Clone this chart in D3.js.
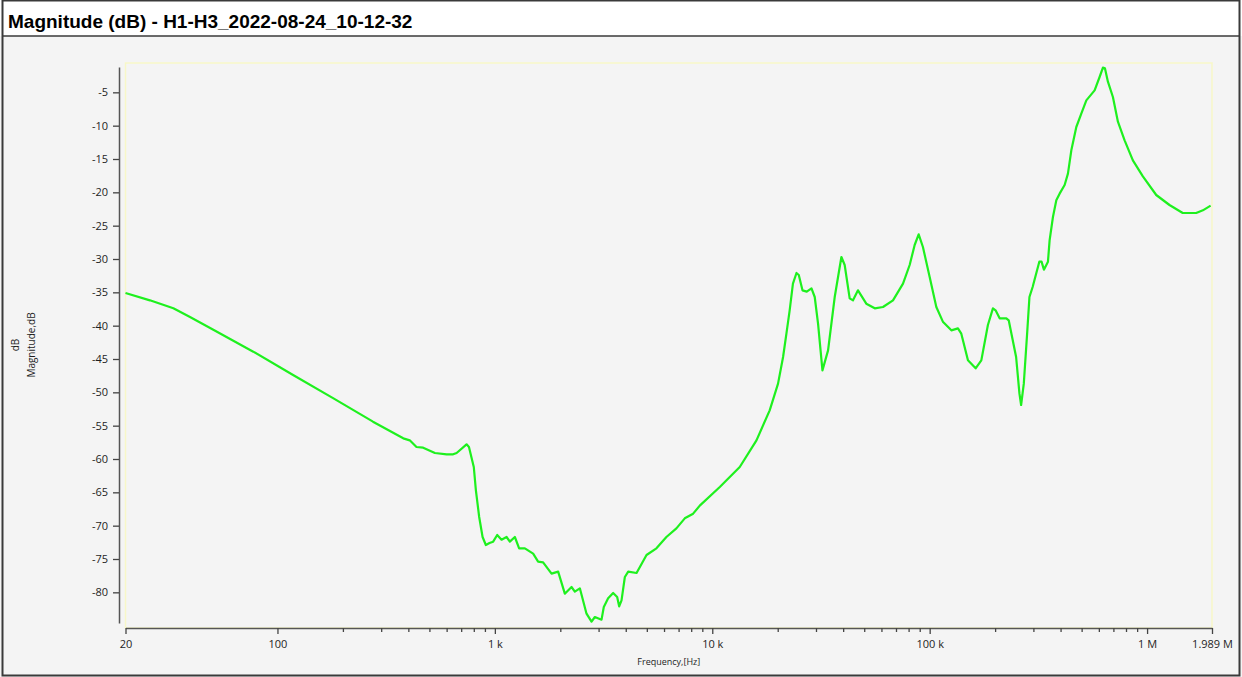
<!DOCTYPE html>
<html>
<head>
<meta charset="utf-8">
<script src="https://cdn.jsdelivr.net/npm/d3@7"></script>
<style>
  html, body { margin: 0; padding: 0; background: #ffffff; }
  svg { display: block; }
  .tick text { font-family: "Open Sans", "Noto Sans", sans-serif; font-size: 11px; fill: #1e1e1e; }
</style>
</head>
<body>
<svg id="chart" width="1242" height="677"></svg>
<script>
// Frequency response, H1-H3 measurement: frequency (Hz) and magnitude (dB)
const frequencyHz = [
  20, 25.9, 33.2, 39.6, 50.7, 77.4, 118, 181, 275, 379, 406, 436, 468, 530, 600, 643, 667,
  741, 760, 800, 818, 847, 878, 909, 945, 982, 1025, 1073, 1132, 1172, 1236,
  1293, 1374, 1500, 1581, 1667, 1823, 1955, 2098, 2252, 2333, 2460, 2640, 2784,
  2884, 3095, 3170, 3319, 3500, 3652, 3730, 3825, 3962, 4106, 4485, 4984, 5536,
  6152, 6839, 7474, 8166, 8760, 10830, 13380, 15970, 18370, 20070, 21170, 21930,
  22700, 23500, 24400, 25000, 26000, 27200, 28600, 29600, 30660, 32120, 34090,
  36580, 39260, 40650, 42860, 44400, 46800, 51100, 55900, 61000, 67800, 75400,
  80900, 85300, 89000, 93100, 100000, 107300, 115000, 125800, 134900, 139800,
  150000, 162700, 172800, 185300, 195400, 201000, 209800, 225200, 231000, 249800,
  258800, 263400, 271000, 280700, 287700, 297600, 319400, 327000, 335400, 350000,
  356200, 369000, 382400, 396000, 417600, 432500, 448300, 472600, 498300, 525500,
  573700, 604800, 626500, 640000, 660500, 696400, 734300, 788300, 860400, 956500,
  1102000, 1268000, 1459000, 1682000, 1806000, 1960000
];
const magnitudeDb = [
  -35.1, -36.2, -37.4, -38.7, -40.6, -43.9, -47.4, -50.9, -54.4, -56.9, -57.2, -58.2, -58.3, -59.1, -59.3, -59.3, -59.1,
  -57.8, -58.2, -61.2, -64.7, -68.7, -71.7, -72.9, -72.6, -72.4, -71.4, -72.1, -71.7, -72.4, -71.7,
  -73.4, -73.4, -74.2, -75.4, -75.5, -77.2, -76.9, -80.2, -79.2, -79.9, -79.4, -83.2, -84.4,
  -83.7, -84.1, -82.2, -80.9, -80.1, -80.7, -82.1, -81.2, -77.7, -76.9, -77.1, -74.4, -73.4,
  -71.7, -70.4, -68.9, -68.2, -67.0, -64.2, -61.2, -57.2, -52.7, -48.7, -44.7, -41.2,
  -37.7, -33.7, -32.1, -32.4, -34.7, -34.9, -34.4, -35.7, -39.7, -46.7, -43.7,
  -35.7, -29.7, -30.9, -35.9, -36.2, -34.7, -36.7, -37.4, -37.2, -36.2, -33.7,
  -30.9, -27.9, -26.3, -28.2, -32.7, -37.2, -39.4, -40.7, -40.4, -41.2,
  -45.2, -46.4, -45.2, -39.9, -37.4, -37.7, -38.9, -38.9, -39.2, -44.7,
  -50.2, -51.9, -48.7, -41.2, -35.7, -34.2, -30.4, -30.4, -31.6, -30.4,
  -27.2, -23.7, -21.2, -20.2, -18.9, -17.2, -13.7, -10.2, -8.2, -6.2,
  -4.7, -2.7, -1.3, -1.4, -3.4, -5.7, -9.4, -12.2, -15.2, -17.6,
  -20.4, -21.9, -23.1, -23.1, -22.7, -22.0
];

// Axis ticks
const yTickValues = [-5, -10, -15, -20, -25, -30, -35, -40, -45, -50, -55, -60, -65, -70, -75, -80];
const xMajorTicks = [20, 100, 1000, 10000, 100000, 1000000, 1989000];
const xMajorLabels = ["20", "100", "1 k", "10 k", "100 k", "1 M", "1.989 M"];
const xMinorTicks = [
  200, 300, 400, 500, 600, 700, 800, 900,
  2000, 3000, 4000, 5000, 6000, 7000, 8000, 9000,
  20000, 30000, 40000, 50000, 60000, 70000, 80000, 90000,
  200000, 300000, 400000, 500000, 600000, 700000, 800000, 900000
];

const titleText = "Magnitude (dB) - H1-H3_2022-08-24_10-12-32";

const svg = d3.select("#chart");
const W = 1242, H = 677;

// Panel background and title bar
svg.append("rect").attr("x", 0).attr("y", 0).attr("width", W).attr("height", H).attr("fill", "#f4f4f4");
svg.append("rect").attr("x", 0).attr("y", 0).attr("width", W).attr("height", 36).attr("fill", "#ffffff");
svg.append("line").attr("x1", 2).attr("x2", 1240).attr("y1", 36).attr("y2", 36)
  .attr("stroke", "#3a3a3a").attr("stroke-width", 1.5);
svg.append("rect").attr("x", 2.5).attr("y", 0.5).attr("width", 1237).attr("height", 675)
  .attr("fill", "none").attr("stroke", "#3a3a3a").attr("stroke-width", 2);
svg.append("text").attr("x", 8).attr("y", 27.5)
  .attr("font-family", "'Liberation Sans', Arial, sans-serif").attr("font-weight", "bold")
  .attr("font-size", 19).attr("fill", "#000").text(titleText);

// Scales
const x = d3.scaleLog().domain([20, 1989000]).range([125.5, 1212]);
const y = d3.scaleLinear().domain([-84.6, -1.2]).range([623, 67]);

// Plot area frame
svg.append("rect").attr("x", x.range()[0]).attr("y", 63)
  .attr("width", x.range()[1] - x.range()[0]).attr("height", 628 - 63)
  .attr("fill", "none").attr("stroke", "#f7f7c8").attr("stroke-width", 1.5);

// Y axis
const yAxis = svg.append("g").attr("transform", "translate(119,0)")
  .call(d3.axisLeft(y).tickValues(yTickValues).tickFormat(d => String(d))
    .tickSize(6).tickSizeOuter(0).tickPadding(5));
yAxis.select(".domain").attr("stroke", "#555").attr("stroke-width", 1.5);
yAxis.selectAll(".tick line").attr("stroke", "#444").attr("stroke-width", 1.3);

// X axis: labelled decades plus unlabelled minor ticks
const xAxis = svg.append("g").attr("transform", "translate(0,628)")
  .call(d3.axisBottom(x).tickValues(xMajorTicks)
    .tickFormat((d, i) => xMajorLabels[i]).tickSize(6).tickSizeOuter(0).tickPadding(6));
xAxis.select(".domain").attr("stroke", "#555").attr("stroke-width", 1.5);
xAxis.selectAll(".tick line").attr("stroke", "#444").attr("stroke-width", 1.3);

const xMinor = svg.append("g").attr("transform", "translate(0,628)")
  .call(d3.axisBottom(x).tickValues(xMinorTicks).tickFormat("").tickSize(4).tickSizeOuter(0));
xMinor.select(".domain").remove();
xMinor.selectAll(".tick line").attr("stroke", "#444").attr("stroke-width", 1.3);

// Axis titles
const midX = (x.range()[0] + x.range()[1]) / 2;
const midY = (y.range()[0] + y.range()[1]) / 2;
svg.append("text").attr("x", midX).attr("y", 665).attr("text-anchor", "middle")
  .attr("font-family", "'Open Sans', sans-serif").attr("font-size", 9).attr("fill", "#1e1e1e")
  .text("Frequency,[Hz]");
svg.append("text").attr("transform", `translate(19,${midY}) rotate(-90)`).attr("text-anchor", "middle")
  .attr("font-family", "'Open Sans', sans-serif").attr("font-size", 10).attr("fill", "#1e1e1e")
  .text("dB");
svg.append("text").attr("transform", `translate(35,${midY}) rotate(-90)`).attr("text-anchor", "middle")
  .attr("font-family", "'Open Sans', sans-serif").attr("font-size", 10).attr("fill", "#1e1e1e")
  .text("Magnitude,dB");

// Magnitude curve
const points = frequencyHz.map((f, i) => ({ f, m: magnitudeDb[i] }));
const line = d3.line().x(d => x(d.f)).y(d => y(d.m));
svg.append("path").datum(points).attr("d", line)
  .attr("fill", "none").attr("stroke", "#1ef01e").attr("stroke-width", 2.2)
  .attr("stroke-linejoin", "round");
</script>
</body>
</html>
